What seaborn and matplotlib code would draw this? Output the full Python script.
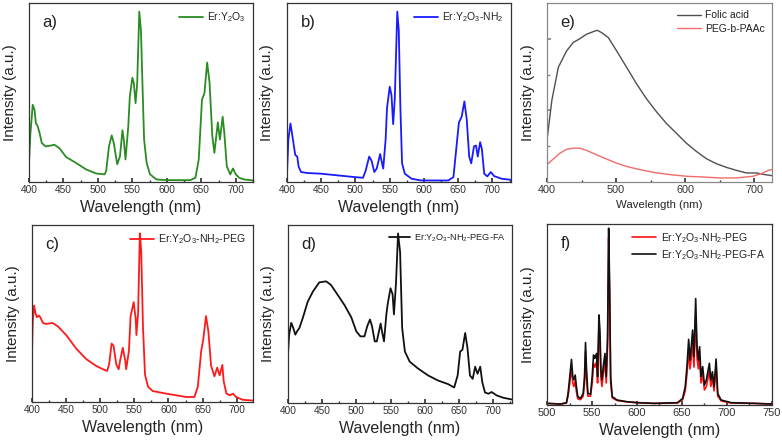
"""
 Espectros de emision de nanoparticulas Er:Y2O3 (paneles a-f)
"""
import numpy as np
import pandas as pd
import seaborn as sns
import matplotlib.pyplot as plt
from matplotlib.ticker import MultipleLocator

# ---- datos (intensidad normalizada) ----
wl_a = [400, 402, 405.4, 408, 410, 412, 415, 418.5, 424, 431.7, 436.6, 444, 453.7, 468, 483, 497.6, 509.8, 512,
        516, 520, 523, 528, 532, 535.6, 537.5, 540, 544, 546.3, 550, 552, 554.6, 557, 560, 562.4, 565, 567,
        570.7, 575.6, 585, 600, 634, 641.5, 646.3, 651, 654.6, 658.5, 662, 666, 669, 674, 677, 681, 683.4,
        687, 692, 696, 700, 705, 712, 726]
int_a = [0.11, 0.28, 0.45, 0.42, 0.34, 0.33, 0.29, 0.225, 0.205, 0.21, 0.215, 0.195, 0.143, 0.108, 0.069, 0.045,
         0.04, 0.06, 0.205, 0.27, 0.225, 0.10, 0.147, 0.30, 0.245, 0.128, 0.32, 0.50, 0.61, 0.58, 0.46, 0.58,
         1.0, 0.89, 0.52, 0.245, 0.108, 0.04, 0.01, 0.006, 0.006, 0.02, 0.128, 0.48, 0.52, 0.70, 0.58, 0.265,
         0.167, 0.347, 0.245, 0.38, 0.285, 0.088, 0.04, 0.075, 0.04, 0.02, 0.01, 0.004]

wl_b = [400, 402, 405, 407, 410, 412, 415, 417, 420.5, 430, 450, 474, 499, 511, 515, 520, 523.5, 527.5, 531,
        536, 538, 540.5, 544, 546, 550, 552.6, 555, 557.4, 561, 563.2, 565.6, 568, 572, 582, 596, 635.5, 643,
        647, 651, 655, 659, 662.4, 666, 669, 673, 676, 678.5, 682, 684.5, 688, 692.5, 697.5, 702.4, 713.6, 727]
int_b = [0.045, 0.245, 0.34, 0.29, 0.21, 0.155, 0.145, 0.085, 0.054, 0.048, 0.044, 0.034, 0.024, 0.02, 0.064,
         0.145, 0.12, 0.054, 0.074, 0.16, 0.12, 0.074, 0.245, 0.43, 0.557, 0.507, 0.336, 0.487, 1.0, 0.89, 0.427,
         0.105, 0.044, 0.014, 0.004, 0.004, 0.024, 0.185, 0.346, 0.38, 0.47, 0.366, 0.145, 0.105, 0.205, 0.21,
         0.145, 0.23, 0.19, 0.044, 0.028, 0.054, 0.03, 0.014, 0.008]

wl_c = [400, 401, 403, 405, 407, 410, 412, 416, 420.5, 430, 438, 450, 465, 479.6, 494, 504, 510, 513, 516.6,
        519.5, 523.4, 527, 529, 533, 536.7, 538, 542, 544.5, 549, 552, 553, 555.5, 558, 560, 562.6, 565.6, 570,
        577, 596.7, 626, 638, 643, 648, 651, 655, 658.5, 662.5, 667.4, 671.5, 675, 679, 681, 685, 690, 694.6,
        699, 709, 723.6]
int_c = [0.30, 0.47, 0.57, 0.525, 0.50, 0.51, 0.50, 0.466, 0.46, 0.466, 0.445, 0.394, 0.312, 0.25, 0.21, 0.19,
         0.18, 0.22, 0.343, 0.33, 0.22, 0.19, 0.24, 0.318, 0.24, 0.19, 0.30, 0.507, 0.59, 0.487, 0.394, 0.528,
         1.0, 0.897, 0.446, 0.158, 0.086, 0.06, 0.045, 0.025, 0.025, 0.086, 0.30, 0.368, 0.507, 0.415, 0.21,
         0.148, 0.20, 0.154, 0.216, 0.117, 0.045, 0.035, 0.045, 0.025, 0.008, 0.004]

wl_d = [400, 402, 405, 408, 411, 413.6, 417, 422, 429, 436.6, 446, 456, 463, 473, 483, 492.7, 500, 506, 512,
        516, 520, 523, 527, 530, 535.6, 538, 540.5, 544, 546, 550, 553, 555, 558, 561, 564, 567, 571, 578, 590,
        605, 619.5, 634, 643, 648, 651.7, 655, 659, 662.4, 666, 670, 673.6, 677, 681, 684, 688, 693, 697.6,
        705, 714.6, 727]
int_d = [0.26, 0.40, 0.47, 0.44, 0.40, 0.42, 0.44, 0.50, 0.594, 0.655, 0.71, 0.716, 0.695, 0.635, 0.574, 0.503,
         0.42, 0.39, 0.39, 0.45, 0.49, 0.45, 0.36, 0.36, 0.466, 0.41, 0.36, 0.523, 0.584, 0.675, 0.64, 0.52,
         0.706, 1.0, 0.89, 0.44, 0.30, 0.24, 0.20, 0.158, 0.128, 0.107, 0.087, 0.158, 0.30, 0.31, 0.41, 0.32,
         0.158, 0.138, 0.21, 0.168, 0.21, 0.118, 0.057, 0.05, 0.06, 0.04, 0.026, 0.016]

wl_e = [400, 407, 416.4, 428.5, 438, 447.8, 457.4, 467, 472.8, 479, 488.8, 500.8, 515.3, 529.8, 544, 558.7,
        573, 587.7, 602, 616.6, 631, 645.5, 660, 674.5, 689, 703.4, 715.5, 726]
folic_e = [0.274, 0.536, 0.755, 0.864, 0.919, 0.945, 0.974, 0.991, 1.0, 0.985, 0.952, 0.864, 0.755, 0.645,
           0.547, 0.46, 0.383, 0.317, 0.252, 0.197, 0.149, 0.116, 0.092, 0.072, 0.055, 0.055, 0.044, 0.037]
wl_e2 = [400, 409, 418.8, 428.5, 438, 447.8, 457.4, 471.9, 486.3, 500.8, 515.3, 534.6, 553.9, 578, 602, 626,
         650.5, 674.5, 698.6, 713, 720.3, 726]
peg_e = [0.11, 0.147, 0.186, 0.212, 0.219, 0.219, 0.204, 0.175, 0.147, 0.12, 0.098, 0.077, 0.059, 0.044, 0.033,
         0.028, 0.022, 0.022, 0.033, 0.055, 0.072, 0.077]

wl_f = [500, 515, 521.6, 523.4, 525.3, 527.2, 528.6, 529.8, 531.3, 532.7, 534.2, 537.2, 540.2, 541.7, 542.8,
        543.9, 545.4, 548.4, 550.2, 551.7, 553.2, 555, 556.2, 557.7, 558.8, 559.9, 561, 562.5, 564.4, 565.8,
        567.3, 568.5, 569.6, 570.7, 572.5, 578, 589.3, 600.4, 619, 645, 650.7, 653.6, 655.5, 657.4, 658.9,
        660.3, 661.8, 663.3, 665.2, 666.7, 668.2, 669.6, 671.1, 673, 674.9, 677.1, 680.4, 682, 683.8, 685.6,
        687.9, 689.7, 693.5, 704.6, 730.7, 750]
fa_f = [0.004, 0.0, 0.008, 0.06, 0.156, 0.254, 0.156, 0.137, 0.165, 0.099, 0.042, 0.032, 0.06, 0.156, 0.35,
        0.194, 0.06, 0.057, 0.156, 0.279, 0.26, 0.288, 0.156, 0.507, 0.42, 0.194, 0.137, 0.213, 0.288, 0.156,
        0.383, 1.0, 0.668, 0.156, 0.042, 0.023, 0.013, 0.008, 0.004, 0.008, 0.032, 0.099, 0.213, 0.368, 0.25,
        0.326, 0.421, 0.27, 0.60, 0.326, 0.25, 0.326, 0.156, 0.213, 0.108, 0.137, 0.232, 0.137, 0.184, 0.099,
        0.256, 0.06, 0.023, 0.008, 0.004, 0.0]
peg_f = [0.004, 0.0, 0.006, 0.045, 0.12, 0.21, 0.12, 0.10, 0.13, 0.07, 0.03, 0.025, 0.045, 0.12, 0.30,
         0.15, 0.045, 0.045, 0.12, 0.23, 0.21, 0.24, 0.12, 0.44, 0.36, 0.15, 0.10, 0.17, 0.24, 0.12,
         0.33, 0.95, 0.60, 0.12, 0.035, 0.02, 0.012, 0.008, 0.004, 0.006, 0.025, 0.075, 0.17, 0.30, 0.20,
         0.26, 0.35, 0.21, 0.50, 0.26, 0.20, 0.27, 0.12, 0.17, 0.08, 0.10, 0.19, 0.10, 0.15, 0.075,
         0.21, 0.045, 0.018, 0.006, 0.004, 0.0]

sns.set_theme(style='ticks')
plt.rcParams['font.family'] = ['Liberation Sans', 'DejaVu Sans']
plt.rcParams['mathtext.default'] = 'regular'
plt.rcParams['text.color'] = '#222222'

fig = plt.figure(figsize=(7.82, 4.45), dpi=100)


def panel(pos, letra, series, xlim, major, minor, tick_fs=7.3, lab_fs=11.5, spine='#333333', ymax=1.05, leg_fs=7.5):
    ax = fig.add_axes(pos)
    for wl, val, color, label, lw in series:
        d = pd.DataFrame({'wl': wl, 'I': val})
        sns.lineplot(data=d, x='wl', y='I', color=color, lw=lw, label=label, ax=ax,
                     sort=False, estimator=None)
    ax.set_xlim(*xlim)
    ax.set_ylim(-0.005, ymax)
    ax.xaxis.set_major_locator(MultipleLocator(major))
    ax.xaxis.set_minor_locator(MultipleLocator(minor))
    ax.set_yticks([])
    ax.tick_params(axis='x', which='both', direction='in', labelsize=tick_fs, pad=2, colors='#333333')
    ax.tick_params(axis='x', which='major', length=3)
    ax.tick_params(axis='x', which='minor', length=1.8)
    for s in ax.spines.values():
        s.set_color(spine)
        s.set_linewidth(0.9)
    ax.set_xlabel('Wavelength (nm)', fontsize=lab_fs, labelpad=4)
    ax.set_ylabel('Intensity (a.u.)', fontsize=11, labelpad=9)
    ax.legend(loc='upper right', frameon=False, fontsize=leg_fs, handlelength=2.3,
              borderaxespad=0.3, handletextpad=0.4, labelspacing=0.3)
    ax.text(0.06, 0.89, letra, transform=ax.transAxes, fontsize=12, va='center')
    return ax


panel([0.0371, 0.591, 0.2864, 0.402], 'a)', [(wl_a, int_a, '#2a8c22', r'Er:Y$_2$O$_3$', 1.3)],
      (400, 725), 50, 25)
panel([0.367, 0.591, 0.2864, 0.402], 'b)', [(wl_b, int_b, '#1a1aff', r'Er:Y$_2$O$_3$-NH$_2$', 1.3)],
      (400, 727), 50, 25)
ax_e = panel([0.6995, 0.591, 0.2877, 0.402], 'e)',
             [(wl_e, folic_e, '#505050', 'Folic acid', 1.0), (wl_e2, peg_e, '#f26b6b', 'PEG-b-PAAc', 1.0)],
             (400, 726), 100, 50, tick_fs=7.8, lab_fs=8.2, spine='#888888', ymax=1.18)
ax_e.set_yticks([0.47, 0.94])
ax_e.set_yticks([0.235, 0.705], minor=True)
ax_e.tick_params(axis='y', which='both', direction='in', labelleft=False, colors='#888888')
ax_e.tick_params(axis='y', which='major', length=3)
ax_e.tick_params(axis='y', which='minor', length=1.8)

panel([0.041, 0.0966, 0.2826, 0.398], 'c)', [(wl_c, int_c, '#ff1a1a', r'Er:Y$_2$O$_3$-NH$_2$-PEG', 1.3)],
      (400, 724), 50, 25, leg_fs=7.6)
panel([0.368, 0.0944, 0.2864, 0.4], 'd)', [(wl_d, int_d, '#111111', r'Er:Y$_2$O$_3$-NH$_2$-PEG-FA', 1.3)],
      (400, 727), 50, 25, leg_fs=6.6)
panel([0.6995, 0.09, 0.2877, 0.407], 'f)',
      [(wl_f, peg_f, '#ff1010', r'Er:Y$_2$O$_3$-NH$_2$-PEG', 1.2),
       (wl_f, fa_f, '#111111', r'Er:Y$_2$O$_3$-NH$_2$-PEG-FA', 1.2)],
      (500, 750), 50, 25, tick_fs=8, ymax=1.025)

fig.savefig('out.png', dpi=100)
